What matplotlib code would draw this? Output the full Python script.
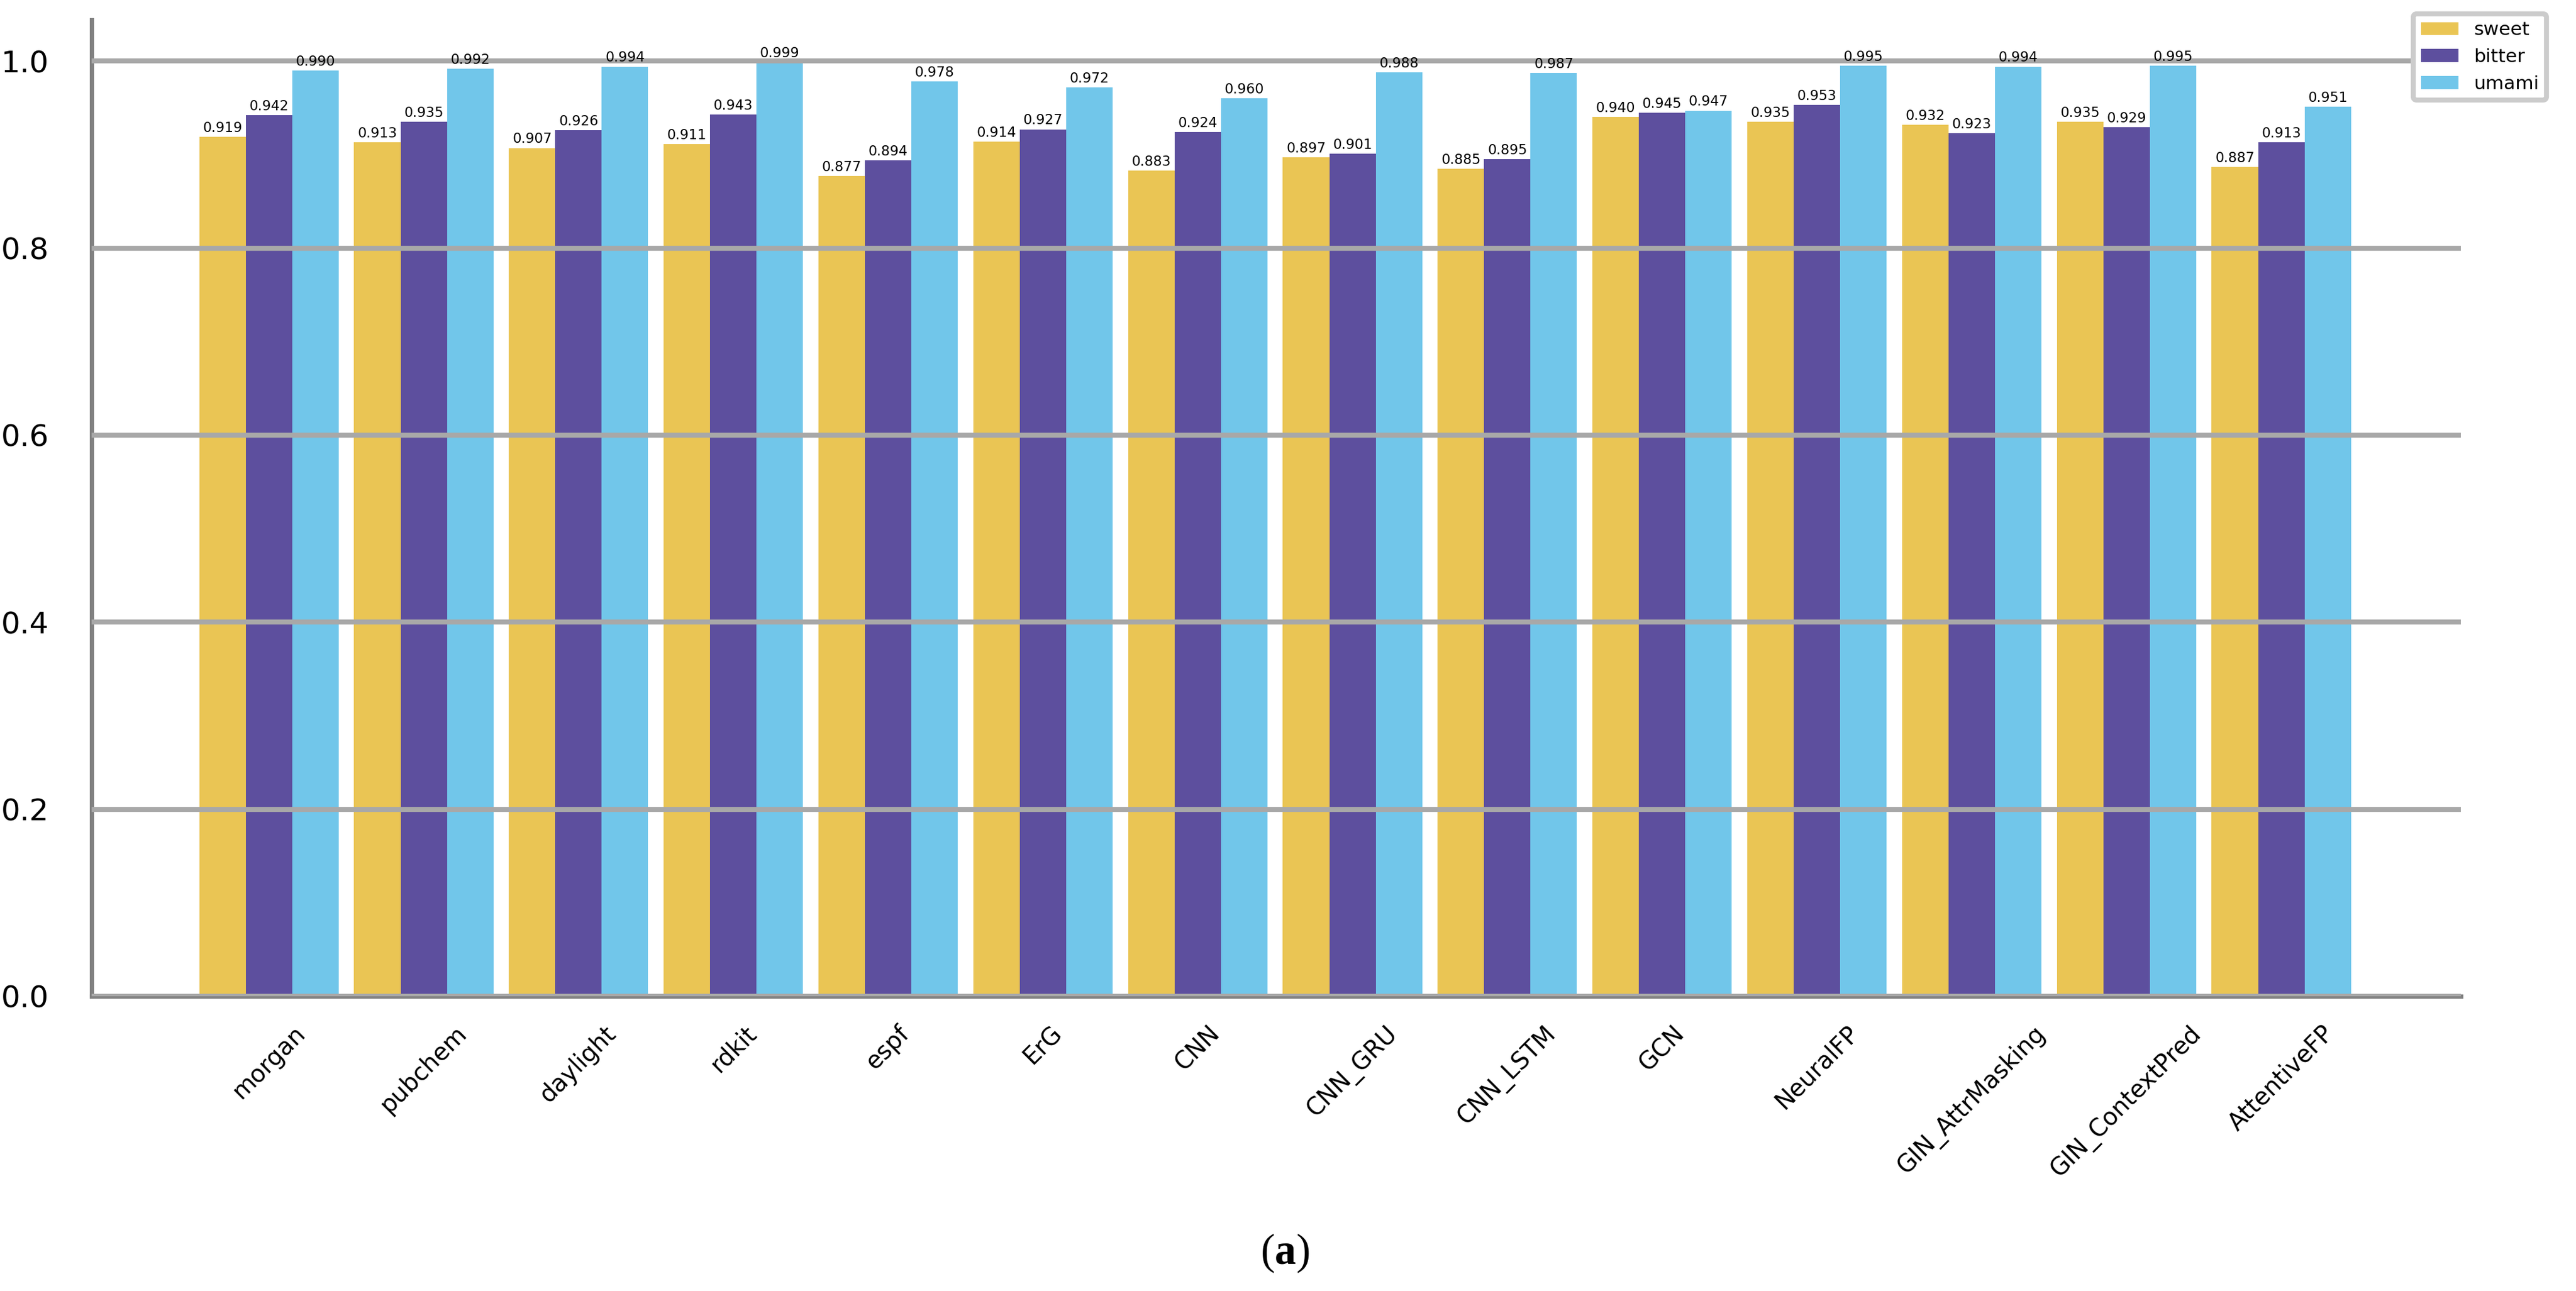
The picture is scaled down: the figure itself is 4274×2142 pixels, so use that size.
import matplotlib
matplotlib.use("Agg")
import matplotlib.pyplot as plt
import numpy as np

plt.rcParams['font.family'] = ['DejaVu Sans']
plt.rcParams['mathtext.fontset'] = 'custom'
plt.rcParams['mathtext.rm'] = 'Liberation Serif'
plt.rcParams['mathtext.bf'] = 'Liberation Serif:bold'

models = ['morgan', 'pubchem', 'daylight', 'rdkit', 'espf', 'ErG', 'CNN',
          'CNN_GRU', 'CNN_LSTM', 'GCN', 'NeuralFP', 'GIN_AttrMasking',
          'GIN_ContextPred', 'AttentiveFP']
sweet = [0.919, 0.913, 0.907, 0.911, 0.877, 0.914, 0.883, 0.897, 0.885,
         0.940, 0.935, 0.932, 0.935, 0.887]
bitter = [0.942, 0.935, 0.926, 0.943, 0.894, 0.927, 0.924, 0.901, 0.895,
          0.945, 0.953, 0.923, 0.929, 0.913]
umami = [0.990, 0.992, 0.994, 0.999, 0.978, 0.972, 0.960, 0.988, 0.987,
         0.947, 0.995, 0.994, 0.995, 0.951]
series = ['sweet', 'bitter', 'umami']
colores = ['#EAC554', '#5D4F9E', '#71C6EA']

fig = plt.figure(figsize=(4274/300, 2142/300), dpi=300)
ax = fig.add_axes([0.0356, 0.2283, 0.9197, 0.7563])

x = np.arange(len(models))
w = 0.3
for k, (vals, nombre, c) in enumerate(zip([sweet, bitter, umami], series, colores)):
    barras = ax.bar(x + (k - 1)*w, vals, w, color=c, label=nombre, linewidth=0)
    for b, v in zip(barras, vals):
        ax.text(b.get_x() + b.get_width()/2, v + 0.002, '%.3f' % v,
                ha='center', va='bottom', fontsize=5.5, zorder=4)

ax.set_xlim(-1.145, len(models) - 1 + 1.16)
ax.set_ylim(0, 1.044)
ax.set_yticks([0.0, 0.2, 0.4, 0.6, 0.8, 1.0])
ax.set_xticks(x)
ax.set_xticklabels(models, rotation=45, ha='center', fontsize=9.5)
ax.tick_params(axis='x', length=0, pad=10)
ax.tick_params(axis='y', length=0, pad=17, labelsize=12)

ax.set_axisbelow(False)
ax.yaxis.grid(True, color='#a8a8a8', linewidth=2)
ax.xaxis.grid(False)
for lado in ['top', 'right']:
    ax.spines[lado].set_visible(False)
for lado in ['left', 'bottom']:
    ax.spines[lado].set_color('#808080')
    ax.spines[lado].set_linewidth(1.7)

leg = ax.legend(loc='upper right', bbox_to_anchor=(0.9885, 0.9893),
                bbox_transform=fig.transFigure, borderaxespad=0,
                fontsize=7.5, fancybox=True, framealpha=1)
leg.get_frame().set_edgecolor('#cccccc')
leg.get_frame().set_linewidth(2)

fig.text(0.4988, 0.021, r'($\mathbf{a}$)', ha='center', va='baseline',
         fontsize=17, family='Liberation Serif')

fig.savefig('out.png', dpi=300)
